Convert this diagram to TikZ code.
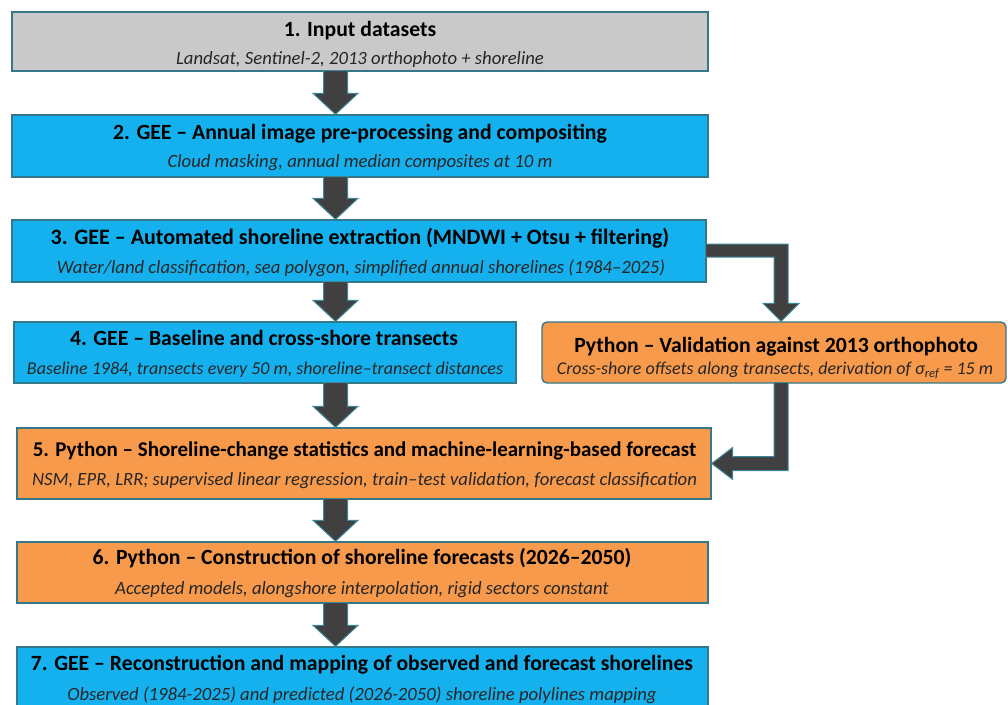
\documentclass[tikz,border=0pt]{standalone}
\usepackage{fontspec}
\setmainfont{Carlito}
\usetikzlibrary{calc}
\definecolor{boxgray}{HTML}{C9C9C9}
\definecolor{boxblue}{HTML}{14B1EE}
\definecolor{boxorange}{HTML}{F79A4B}
\definecolor{boxedge}{HTML}{35788A}
\definecolor{arrfill}{HTML}{404040}
\definecolor{arredge}{HTML}{3B8898}
\newcommand{\downfat}[3]{%
  \path[fatarrow] let \p1=(#1 -| #3), \p2=(#2 -| #3) in
  (\x1-12pt,\y1+1pt) -- (\x1-12pt,\y2+21pt) -- (\x1-22.5pt,\y2+21pt) -- (\x1,\y2)
  -- (\x1+22.5pt,\y2+21pt) -- (\x1+12pt,\y2+21pt) -- (\x1+12pt,\y1+1pt) -- cycle;}
\begin{document}
\begin{tikzpicture}[x=1pt,y=-1pt,
  box/.style={draw=boxedge, line width=1.4pt, inner sep=0pt},
  ttl/.style={anchor=base, inner sep=0pt, font=\fontsize{21.7}{26}\selectfont\bfseries, text=black},
  sub/.style={anchor=base, inner sep=0pt, font=\fontsize{18.7}{22}\selectfont\itshape, text=black!85},
  fatarrow/.style={fill=arrfill, draw=arredge, line width=1pt, line join=miter}]
\useasboundingbox (0,0) rectangle (1008,704);
\fill[white] (0,0) rectangle (1008,704);
\coordinate (ax) at (335.5,0);
\coordinate (ex) at (781,0);
% boxes
\node[box, fill=boxgray, minimum width=696pt, minimum height=59pt] (b1) at (360,41.5) {};
\node[box, fill=boxblue, minimum width=696pt, minimum height=62pt] (b2) at (360,146) {};
\node[box, fill=boxblue, minimum width=694pt, minimum height=62pt] (b3) at (359,251) {};
\node[box, fill=boxblue, minimum width=502pt, minimum height=61pt] (b4) at (265,352.5) {};
\node[box, fill=boxorange, rounded corners=5pt, minimum width=464pt, minimum height=61pt] (bv) at (774,352.5) {};
\node[box, fill=boxorange, minimum width=694pt, minimum height=71pt] (b5) at (364,463.5) {};
\node[box, fill=boxorange, minimum width=691pt, minimum height=61pt] (b6) at (362.5,572.5) {};
\node[box, fill=boxblue, minimum width=691pt, minimum height=64pt] (b7) at (362.5,679) {};
% texts
\node[ttl] (t1) at (360,36) {1. Input datasets};
\node[sub] (s1) at (360,64.5) {Landsat, Sentinel-2, 2013 orthophoto + shoreline};
\node[ttl] (t2) at (360,139) {2. GEE – Annual image pre-processing and compositing};
\node[sub] (s2) at (360,167.5) {Cloud masking, annual median composites at 10 m};
\node[ttl, font=\fontsize{22}{26}\selectfont\bfseries] (t3) at (360,244) {3. GEE – Automated shoreline extraction (MNDWI + Otsu + filtering)};
\node[sub] (s3) at (361,273.5) {Water/land classification, sea polygon, simplified annual shorelines (1984–2025)};
\node[ttl] (t4) at (264,345) {4. GEE – Baseline and cross-shore transects};
\node[sub, font=\fontsize{18}{21}\selectfont\itshape] (s4) at (265,374.5) {Baseline 1984, transects every 50 m, shoreline–transect distances};
\node[ttl] (tv) at (776,352) {Python – Validation against 2013 orthophoto};
\node[sub, font=\fontsize{18}{21}\selectfont\itshape] (sv) at (775,374.5) {Cross-shore offsets along transects, derivation of σ\textsubscript{ref} = 15 m};
\node[ttl, font=\fontsize{21}{25}\selectfont\bfseries] (t5) at (364.5,456) {5. Python – Shoreline-change statistics and machine-learning-based forecast};
\node[sub] (s5) at (364.5,485.5) {NSM, EPR, LRR; supervised linear regression, train–test validation, forecast classification};
\node[ttl] (t6) at (362,564) {6. Python – Construction of shoreline forecasts (2026–2050)};
\node[sub] (s6) at (362,594.5) {Accepted models, alongshore interpolation, rigid sectors constant};
\node[ttl] (t7) at (362,670) {7. GEE – Reconstruction and mapping of observed and forecast shorelines};
\node[sub] (s7) at (362,700) {Observed (1984-2025) and predicted (2026-2050) shoreline polylines mapping};
% straight arrows
\downfat{b1.south}{b2.north}{ax}
\downfat{b2.south}{b3.north}{ax}
\downfat{b3.south}{b4.north}{ax}
\downfat{b4.south}{b5.north}{ax}
\downfat{b5.south}{b6.north}{ax}
\downfat{b6.south}{b7.north}{ax}
% elbow arrow: step 3 -> validation
\path[fatarrow] let \p1=(b3.east), \p2=(bv.north -| ex) in
  (\x1-1pt,\y1+7pt) -- (\x2+7pt,\y1+7pt) -- (\x2+7pt,\y2+18pt) -- (\x2+18pt,\y2+18pt)
  -- (\x2,\y2) -- (\x2-18pt,\y2+18pt) -- (\x2-7pt,\y2+18pt) -- (\x2-7pt,\y1-6pt)
  -- (\x1-1pt,\y1-6pt) -- cycle;
% elbow arrow: validation -> step 5
\path[fatarrow] let \p1=(bv.south -| ex), \p2=(b5.east) in
  (\x1-7pt,\y1+1pt) -- (\x1-7pt,\y2+7pt) -- (\x2+21pt,\y2+7pt) -- (\x2+21pt,\y2+16pt)
  -- (\x2,\y2) -- (\x2+21pt,\y2-16pt) -- (\x2+21pt,\y2-7pt) -- (\x1+7pt,\y2-7pt)
  -- (\x1+7pt,\y1+1pt) -- cycle;
\end{tikzpicture}
\end{document}
